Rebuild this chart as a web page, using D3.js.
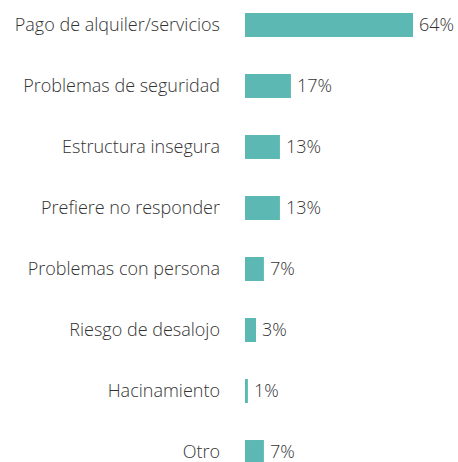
<!DOCTYPE html>
<html>
<head>
<meta charset="utf-8">
<script src="https://cdn.jsdelivr.net/npm/d3@7"></script>
<style>
  body { margin: 0; background: #fff; }
  text { font-family: "Open Sans", Lato, sans-serif; font-weight: 300; fill: #333333; }
</style>
</head>
<body>
<div id="chart"></div>
<script>
var svgWidth = 458;
var svgHeight = 462;

// categories top to bottom
var categories = [
  "Pago de alquiler/servicios",
  "Problemas de seguridad",
  "Estructura insegura",
  "Prefiere no responder",
  "Problemas con persona",
  "Riesgo de desalojo",
  "Hacinamiento",
  "Otro"
];

// bar lengths (%)
var values = [64, 17.5, 13.3, 13.3, 7.2, 4.2, 1.1, 7.2];

// printed labels
var pctLabels = ["64%", "17%", "13%", "13%", "7%", "3%", "1%", "7%"];

var svg = d3.select("#chart")
  .append("svg")
  .attr("width", svgWidth)
  .attr("height", svgHeight);

var xScale = d3.scaleLinear()
  .domain([0, 64])
  .range([245, 413]);

var yScale = d3.scaleBand()
  .domain(categories)
  .range([13, 464])
  .paddingInner(0.607)
  .paddingOuter(0);

// bars
svg.selectAll("rect")
  .data(categories)
  .enter()
  .append("rect")
  .attr("x", xScale(0))
  .attr("y", d => yScale(d))
  .attr("width", (d, i) => xScale(values[i]) - xScale(0))
  .attr("height", yScale.bandwidth())
  .attr("fill", "#5bb8b3");

// category labels
svg.selectAll(".catLabel")
  .data(categories)
  .enter()
  .append("text")
  .attr("class", "catLabel")
  .attr("x", 220)
  .attr("y", d => yScale(d) + yScale.bandwidth() / 2)
  .attr("dy", "0.35em")
  .attr("text-anchor", "end")
  .attr("font-size", "18px")
  .text(d => d);

// value labels
svg.selectAll(".valLabel")
  .data(categories)
  .enter()
  .append("text")
  .attr("class", "valLabel")
  .attr("x", (d, i) => xScale(values[i]) + 6)
  .attr("y", d => yScale(d) + yScale.bandwidth() / 2)
  .attr("dy", "0.35em")
  .attr("font-size", "18px")
  .text((d, i) => pctLabels[i]);
</script>
</body>
</html>
